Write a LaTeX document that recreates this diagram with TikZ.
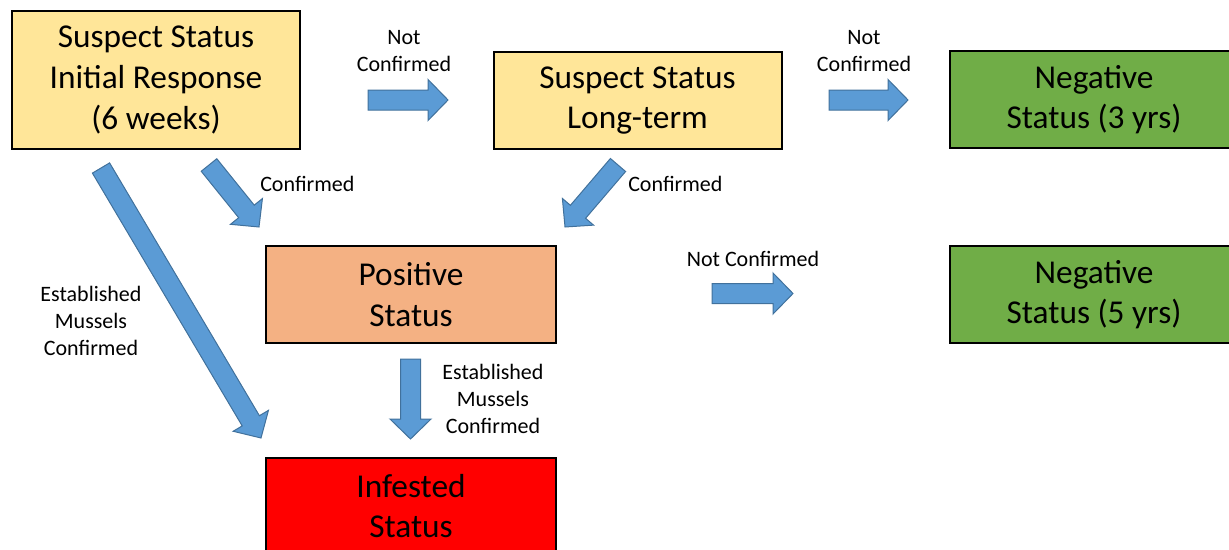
\documentclass[tikz,border=0pt]{standalone}
\usepackage{fontspec}
\setmainfont{Carlito}
\usetikzlibrary{calc}
\definecolor{suspectyellow}{HTML}{FFE699}
\definecolor{positiveorange}{HTML}{F4B183}
\definecolor{negativegreen}{HTML}{70AD47}
\definecolor{arrowblue}{HTML}{5B9BD5}
\definecolor{arrowedge}{HTML}{41719C}
\newcommand{\fatarrow}[2]{%
  \coordinate (neck) at ($(#2)!15pt!(#1)$);
  \draw[fatarrow] ($(#1)!7.5pt!90:(#2)$) -- ($(neck)!7.5pt!-90:(#1)$)
    -- ($(neck)!15.4pt!-90:(#1)$) -- (#2) -- ($(neck)!15.4pt!90:(#1)$)
    -- ($(neck)!7.5pt!90:(#1)$) -- ($(#1)!7.5pt!-90:(#2)$) -- cycle;}
\begin{document}
\begin{tikzpicture}[x=0.75pt,y=-0.75pt,
  statusbox/.style={draw=black, line width=1.5pt, align=center, inner sep=0pt,
    minimum width=216pt, minimum height=72.75pt, font=\fontsize{25}{30.4}\selectfont,
    execute at begin node={\rule{0pt}{26pt}}},
  steplabel/.style={align=center, inner sep=0pt, font=\fontsize{16.5}{20.5}\selectfont},
  fatarrow/.style={fill=arrowblue, draw=arrowedge, line width=0.75pt, line join=miter}]
\useasboundingbox (0,0) rectangle (1229,550);

\node[statusbox, fill=suspectyellow, minimum height=103.5pt] (initial) at (156,80) {Suspect Status\\Initial Response\\(6 weeks)};
\node[statusbox, fill=suspectyellow] (longterm) at (637.5,100.5) {Suspect Status\\Long-term};
\node[statusbox, fill=negativegreen] (neg3) at (1094,99.5) {Negative\\Status (3 yrs)};
\node[statusbox, fill=negativegreen] (neg5) at (1094,294.5) {Negative\\Status (5 yrs)};
\node[statusbox, fill=positiveorange, minimum width=217.5pt] (positive) at (411,294.5) {Positive\\Status};
\node[statusbox, fill=red, minimum width=217.5pt] (infested) at (411,506) {Infested\\Status};

\coordinate (notA0) at (368,100);   \coordinate (notA1) at (448,100);
\coordinate (notB0) at (829,100);   \coordinate (notB1) at (908,100);
\coordinate (notP0) at (712,293.5); \coordinate (notP1) at (793,293.5);
\coordinate (confA0) at (209,165);  \coordinate (confA1) at (259,227);
\coordinate (confB0) at (618,165);  \coordinate (confB1) at (565,227);
\coordinate (estA0) at (101,168);   \coordinate (estA1) at (261,438);
\coordinate (estP0) at (410.5,359); \coordinate (estP1) at (410.5,439);

\fatarrow{notA0}{notA1}
\fatarrow{notB0}{notB1}
\fatarrow{notP0}{notP1}
\fatarrow{confA0}{confA1}
\fatarrow{confB0}{confB1}
\fatarrow{estA0}{estA1}
\fatarrow{estP0}{estP1}

\node[steplabel] (lnotA) at (404,51) {Not\\Confirmed};
\node[steplabel] (lnotB) at (864,51) {Not\\Confirmed};
\node[steplabel] (lnotP) at (753,259) {Not Confirmed};
\node[steplabel, anchor=west] (lconfA) at (260,184) {Confirmed};
\node[steplabel, anchor=west] (lconfB) at (628,184) {Confirmed};
\node[steplabel] (lestA) at (91,321) {Established\\Mussels\\Confirmed};
\node[steplabel] (lestP) at (493,399) {Established\\Mussels\\Confirmed};
\end{tikzpicture}
\end{document}
